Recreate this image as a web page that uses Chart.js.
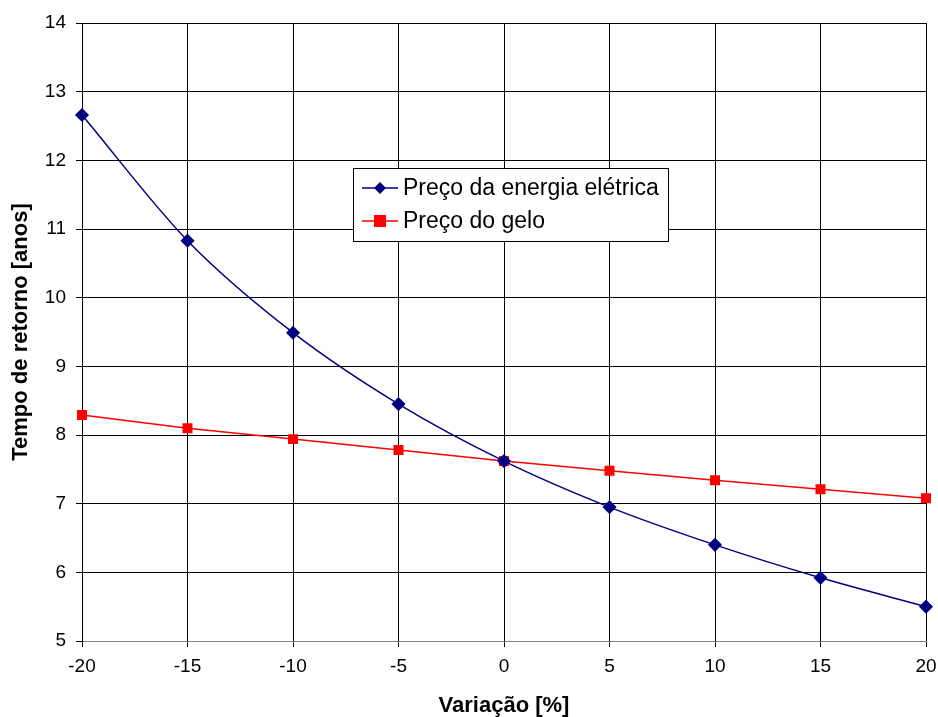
<!DOCTYPE html>
<html>
<head>
<meta charset="utf-8">
<script src="https://cdn.jsdelivr.net/npm/chart.js@4/dist/chart.umd.min.js"></script>
<style>
  body { margin: 0; background: #fff; }
  #wrap { width: 938px; height: 717px; }
</style>
</head>
<body>
<div id="wrap"><canvas id="myChart" width="938" height="717"></canvas></div>
<script>
const variacao = [-20, -15, -10, -5, 0, 5, 10, 15, 20]
const precoEnergia = [12.66, 10.83, 9.49, 8.45, 7.62, 6.95, 6.40, 5.92, 5.50]
const precoGelo = [8.29, 8.10, 7.94, 7.78, 7.62, 7.48, 7.34, 7.21, 7.08]
const yTicks = [5, 6, 7, 8, 9, 10, 11, 12, 13, 14]

const font = 'Arial, "Liberation Sans", sans-serif'

// legend box drawn inside the plot, like the original
const boxLegend = {
  id: 'boxLegend',
  afterDatasetsDraw(chart) {
    const ctx = chart.ctx
    const x = 353, y = 168, w = 315, h = 73
    ctx.save()
    ctx.fillStyle = '#fff'
    ctx.fillRect(x, y, w, h)
    ctx.strokeStyle = '#000'
    ctx.lineWidth = 1
    ctx.strokeRect(x + 0.5, y + 0.5, w, h)
    chart.data.datasets.forEach((ds, i) => {
      const cy = y + 20 + i * 33
      ctx.strokeStyle = ds.borderColor
      ctx.lineWidth = 1.5
      ctx.beginPath()
      ctx.moveTo(x + 9, cy)
      ctx.lineTo(x + 45, cy)
      ctx.stroke()
      ctx.fillStyle = ds.pointBackgroundColor
      if (ds.pointStyle === 'rectRot') {
        ctx.beginPath()
        ctx.moveTo(x + 27, cy - 6)
        ctx.lineTo(x + 33, cy)
        ctx.lineTo(x + 27, cy + 6)
        ctx.lineTo(x + 21, cy)
        ctx.closePath()
        ctx.fill()
      } else {
        ctx.fillRect(x + 21, cy - 6, 12, 12)
      }
      ctx.fillStyle = '#000'
      ctx.font = '23px ' + font
      ctx.textBaseline = 'middle'
      ctx.fillText(ds.label, x + 50, cy + 1)
    })
    ctx.restore()
  }
}

const chart = new Chart(document.getElementById('myChart'), {
  type: 'line',
  data: {
    labels: variacao,
    datasets: [{
      label: 'Preço da energia elétrica',
      data: precoEnergia.map((v, i) => ({x: variacao[i], y: v})),
      borderColor: '#000080',
      backgroundColor: '#000080',
      pointBackgroundColor: '#000080',
      pointBorderColor: '#000080',
      pointStyle: 'rectRot',
      pointRadius: 6,
      borderWidth: 1.5,
      clip: false,
      cubicInterpolationMode: 'monotone'
    }, {
      label: 'Preço do gelo',
      data: precoGelo.map((v, i) => ({x: variacao[i], y: v})),
      borderColor: '#ff0000',
      backgroundColor: '#ff0000',
      pointBackgroundColor: '#ff0000',
      pointBorderColor: '#ff0000',
      pointStyle: 'rect',
      pointRadius: 6,
      borderWidth: 1.5,
      clip: false,
      tension: 0
    }]
  },
  options: {
    responsive: false,
    animation: false,
    layout: { padding: { top: 23, right: 12, left: 0, bottom: 0 } },
    scales: {
      x: {
        type: 'linear',
        min: -20,
        max: 20,
        afterFit: s => { s.height = 76; s.paddingRight = 0; s.paddingLeft = 0 },
        ticks: { stepSize: 5, color: '#000', font: { family: font, size: 19 }, padding: 8, maxRotation: 0 },
        grid: { color: '#000', lineWidth: 1, tickLength: 6 },
        border: { color: '#808080', width: 1 },
        title: { display: true, text: 'Variação [%]', color: '#000', font: { family: font, size: 22, weight: 'bold', lineHeight: 1 }, padding: { top: 0, bottom: 0 } }
      },
      y: {
        min: 5,
        max: 14,
        afterFit: s => { s.width = 82; s.paddingTop = 0; s.paddingBottom = 0 },
        afterBuildTicks: s => { s.ticks = yTicks.map(v => ({ value: v })) },
        ticks: { color: '#000', font: { family: font, size: 19 }, padding: 10 },
        grid: { color: '#000', lineWidth: 1, tickLength: 6 },
        border: { color: '#000', width: 1 },
        title: { display: true, text: 'Tempo de retorno [anos]', color: '#000', font: { family: font, size: 22, weight: 'bold', lineHeight: 1.2 }, padding: { top: 8, bottom: 0 } }
      }
    },
    plugins: {
      legend: { display: false },
      tooltip: { enabled: false }
    }
  },
  plugins: [boxLegend]
})
</script>
</body>
</html>
